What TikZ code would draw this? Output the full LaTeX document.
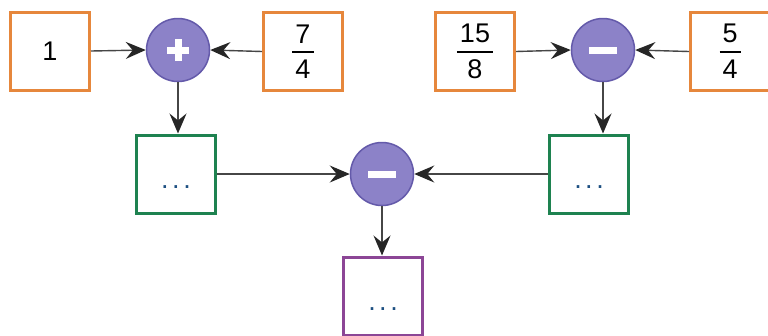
\documentclass[tikz,border=0pt]{standalone}
\usepackage{fontspec}
\setmainfont{Liberation Sans}
\usetikzlibrary{arrows.meta}
\definecolor{orng}{RGB}{230,135,60}
\definecolor{grn}{RGB}{30,130,80}
\definecolor{prp}{RGB}{140,70,150}
\definecolor{cfill}{RGB}{140,130,200}
\definecolor{cdraw}{RGB}{100,90,170}
\definecolor{dotc}{RGB}{30,80,130}
\definecolor{arr}{RGB}{70,70,70}
\newlength\frw
\newcommand\fr[2]{\settowidth\frw{#1}\addtolength\frw{6pt}%
  $\vcenter{\hbox to\frw{\hss#1\hss}\kern8pt\hrule height 2pt\kern7pt\hbox to\frw{\hss#2\hss}}$}
\newcommand\dotsx{.\kern3.5pt.\kern3.5pt.}
\tikzset{
  valbox/.style={draw=orng, line width=3pt, fill=white, minimum width=79pt, minimum height=78pt, inner sep=0pt, font=\fontsize{27}{30}\selectfont},
  resbox/.style={valbox, draw=grn, text=dotc, text depth=0pt, text height=0pt},
  finbox/.style={resbox, draw=prp},
  opbase/.style={circle, draw=cdraw, fill=cfill, line width=1.5pt, minimum size=63pt, inner sep=0pt},
  opplus/.style={opbase, path picture={\draw[white, line width=7pt] ([xshift=-11pt]path picture bounding box.center) -- ([xshift=11pt]path picture bounding box.center) ([yshift=-11pt]path picture bounding box.center) -- ([yshift=11pt]path picture bounding box.center);}},
  opminus/.style={opbase, path picture={\draw[white, line width=7pt] ([xshift=-14pt]path picture bounding box.center) -- ([xshift=14pt]path picture bounding box.center);}},
  conn/.style={draw=arr, line width=1.4pt, -{Stealth[length=20pt, width=17pt, inset=7pt, color=black!85]}}
}
\begin{document}
\begin{tikzpicture}[x=1pt, y=-1pt]
\clip (0,0) rectangle (768,335);
\fill[white] (0,0) rectangle (768,335);
\node[valbox] (one) at (50,51) {1};
\node[opplus] (plus) at (178,50) {};
\node[valbox] (sev) at (303,51.5) {\fr{7}{4}};
\node[valbox] (fif) at (475,51.5) {\fr{15}{8}};
\node[opminus] (mina) at (603,50) {};
\node[valbox] (fiv) at (730,51.5) {\fr{5}{4}};
\node[resbox] (g1) at (176,174) {\raisebox{-14pt}{\dotsx}};
\node[opminus] (minb) at (382,174) {};
\node[resbox] (g2) at (589,174) {\raisebox{-14pt}{\dotsx}};
\node[finbox] (res) at (383,296) {\raisebox{-14pt}{\dotsx}};
\draw[conn] (one.east) -- (plus.west);
\draw[conn] (sev.west) -- (plus.east);
\draw[conn] (fif.east) -- (mina.west);
\draw[conn] (fiv.west) -- (mina.east);
\draw[conn] (plus.south) -- (plus.south |- g1.north);
\draw[conn] (mina.south) -- (mina.south |- g2.north);
\draw[conn] (g1.east) -- (minb.west);
\draw[conn] (g2.west) -- (minb.east);
\draw[conn] (minb.south) -- (minb.south |- res.north);
\end{tikzpicture}
\end{document}
